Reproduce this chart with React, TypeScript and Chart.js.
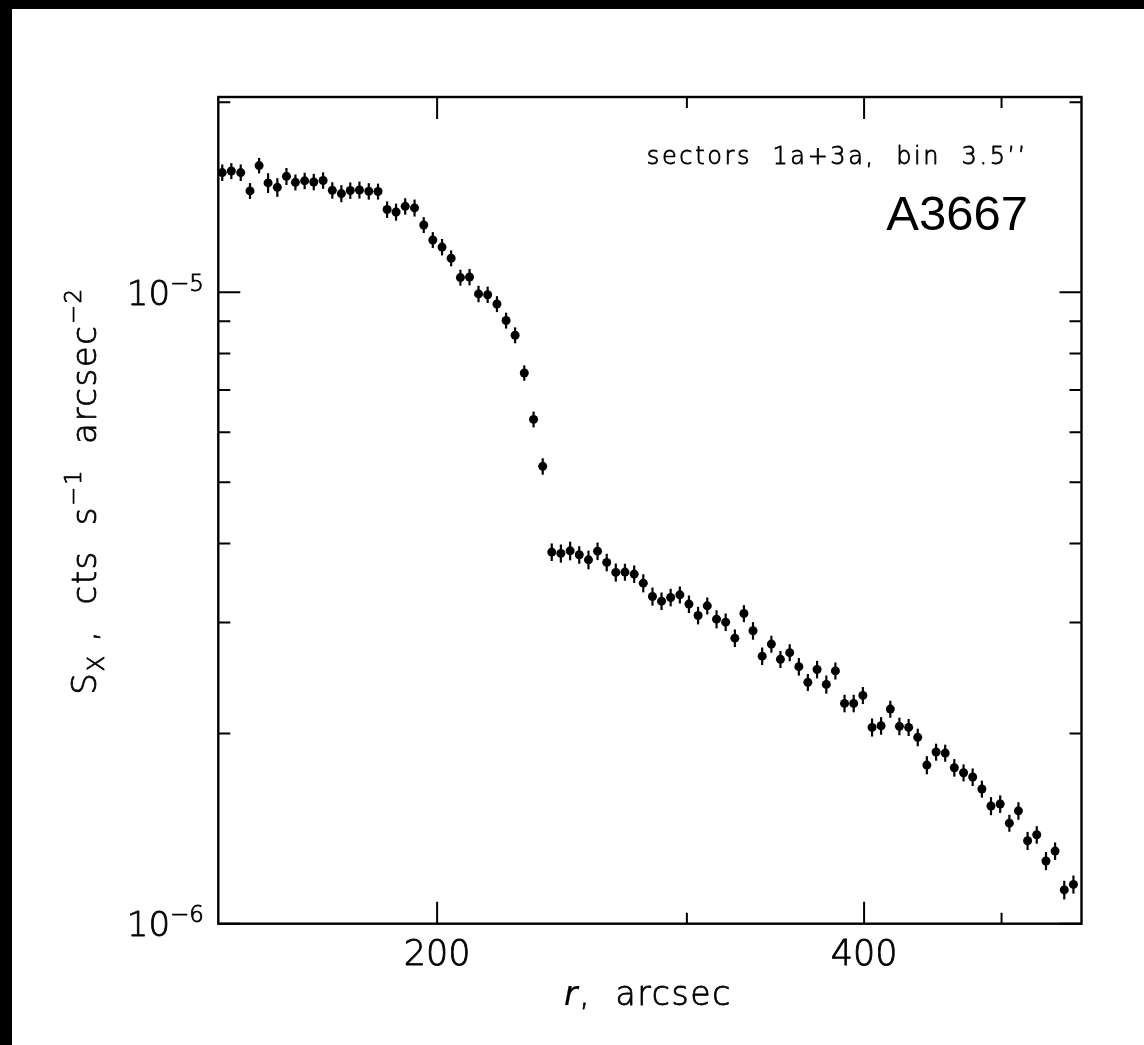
import React, { useEffect, useRef } from "react";
import { Chart, registerables } from "chart.js";

Chart.register(...registerables);

// ---- data ----
// radius of each annulus bin, arcsec
const radius: number[] = [
  141.1, 143.2, 145.4, 147.6, 149.8, 152.0, 154.3, 156.6, 158.9, 161.3,
  163.7, 166.2, 168.7, 171.2, 173.7, 176.3, 179.0, 181.7, 184.4, 187.1,
  189.9, 192.8, 195.7, 198.6, 201.6, 204.6, 207.7, 210.8, 213.9, 217.1,
  220.4, 223.7, 227.0, 230.4, 233.9, 237.4, 240.9, 244.5, 248.2, 251.9,
  255.7, 259.5, 263.4, 267.3, 271.3, 275.4, 279.5, 283.7, 287.9, 292.2,
  296.6, 301.0, 305.5, 310.1, 314.8, 319.5, 324.3, 329.1, 334.0, 339.0,
  344.1, 349.2, 354.5, 359.8, 365.1, 370.6, 376.2, 381.8, 387.5, 393.3,
  399.2, 405.2, 411.2, 417.4, 423.6, 430.0, 436.4, 442.9, 449.6, 456.3,
  463.1, 470.1, 477.1, 484.3, 491.5, 498.9, 506.4, 513.9, 521.6, 529.4,
  537.4, 545.4, 553.6, 561.9,
];

// surface brightness, units of 1e-6 cts s^-1 arcsec^-2
const brightness1e6: number[] = [
  15.47, 15.56, 15.47, 14.47, 15.87, 14.90, 14.66, 15.26, 14.93, 15.01,
  14.95, 15.03, 14.50, 14.33, 14.49, 14.52, 14.45, 14.44, 13.52, 13.40,
  13.68, 13.60, 12.78, 12.10, 11.79, 11.32, 10.55, 10.57, 9.94, 9.91,
  9.58, 9.02, 8.55, 7.45, 6.29, 5.30, 3.877, 3.858, 3.895, 3.839,
  3.769, 3.890, 3.734, 3.600, 3.604, 3.578, 3.462, 3.298, 3.242, 3.286,
  3.317, 3.207, 3.077, 3.187, 3.036, 3.003, 2.833, 3.099, 2.910, 2.653,
  2.772, 2.622, 2.687, 2.553, 2.411, 2.527, 2.393, 2.514, 2.233, 2.233,
  2.299, 2.046, 2.058, 2.187, 2.054, 2.046, 1.973, 1.783, 1.870, 1.863,
  1.766, 1.734, 1.707, 1.634, 1.536, 1.547, 1.443, 1.509, 1.353, 1.383,
  1.257, 1.303, 1.131, 1.154,
];

// relative 1-sigma errors
const relError: number[] = [
  0.030, 0.029, 0.030, 0.029, 0.028, 0.036, 0.034, 0.031, 0.029, 0.030,
  0.030, 0.030, 0.030, 0.031, 0.030, 0.031, 0.030, 0.029, 0.030, 0.031,
  0.030, 0.031, 0.029, 0.029, 0.030, 0.029, 0.029, 0.030, 0.030, 0.030,
  0.029, 0.029, 0.029, 0.028, 0.029, 0.030, 0.032, 0.033, 0.034, 0.032,
  0.034, 0.032, 0.032, 0.033, 0.031, 0.032, 0.033, 0.033, 0.032, 0.032,
  0.031, 0.032, 0.032, 0.031, 0.033, 0.032, 0.032, 0.031, 0.032, 0.032,
  0.031, 0.031, 0.031, 0.032, 0.031, 0.032, 0.033, 0.031, 0.032, 0.032,
  0.031, 0.033, 0.032, 0.031, 0.032, 0.031, 0.032, 0.033, 0.031, 0.031,
  0.032, 0.031, 0.032, 0.031, 0.033, 0.032, 0.031, 0.032, 0.033, 0.032,
  0.033, 0.032, 0.034, 0.033,
];

const xRange: number[] = [140.2, 569.3];
const yRange: number[] = [1e-6, 2.038e-5];
const xMajorTicks: number[] = [200, 400];
const xMinorTicks: number[] = [300, 500];
const xTickLabels: string[] = ["200", "400"];
const yMajorTicks: number[] = [1e-6, 1e-5];
const yMinorTicks: number[] = [2e-6, 3e-6, 4e-6, 5e-6, 6e-6, 7e-6, 8e-6, 9e-6, 2e-5];
const yTickBase: string[] = ["10", "10"];
const yTickExp: string[] = ["\u22126", "\u22125"];

const PG_FONT = "'DejaVu Sans', sans-serif";

type Seg = { t: string; size: number; dy: number; italic?: boolean; family?: string; weight?: string; stroke?: number };

function fontOf(s: Seg) {
  return `${s.italic ? "italic " : ""}${s.weight ?? "200"} ${s.size}px ${s.family ?? PG_FONT}`;
}

function drawRich(
  ctx: CanvasRenderingContext2D,
  segs: Seg[],
  x: number,
  y: number,
  align: "left" | "center" | "right",
  rotate = false,
  spacing = 0
) {
  ctx.save();
  ctx.translate(x, y);
  if (rotate) ctx.rotate(-Math.PI / 2);
  ctx.textBaseline = "alphabetic";
  ctx.textAlign = "left";
  ctx.fillStyle = "#000";
  ctx.strokeStyle = "#000";
  ctx.lineJoin = "round";
  (ctx as any).letterSpacing = `${spacing}px`;
  const ws = segs.map((s) => {
    ctx.font = fontOf(s);
    return ctx.measureText(s.t).width;
  });
  const total = ws.reduce((a, b) => a + b, 0);
  let cx = align === "left" ? 0 : align === "center" ? -total / 2 : -total;
  segs.forEach((s, i) => {
    ctx.font = fontOf(s);
    ctx.fillText(s.t, cx, s.dy);
    const sw = s.stroke ?? 0.8;
    if (sw > 0) {
      ctx.lineWidth = sw;
      ctx.strokeText(s.t, cx, s.dy);
    }
    cx += ws[i];
  });
  (ctx as any).letterSpacing = "0px";
  ctx.restore();
}

const decorPlugin = {
  id: "pgplotDecor",
  beforeDatasetsDraw(chart: any) {
    const { ctx } = chart;
    const xs = chart.scales.x;
    const ys = chart.scales.y;
    ctx.save();
    ctx.strokeStyle = "#000";
    ctx.lineWidth = 2.2;
    radius.forEach((r, i) => {
      const v = brightness1e6[i] * 1e-6;
      const e = relError[i];
      const px = xs.getPixelForValue(r);
      ctx.beginPath();
      ctx.moveTo(px, ys.getPixelForValue(v * (1 + e)));
      ctx.lineTo(px, ys.getPixelForValue(v * (1 - e)));
      ctx.stroke();
    });
    ctx.restore();
  },
  afterDraw(chart: any) {
    const { ctx, chartArea: a } = chart;
    const xs = chart.scales.x;
    const ys = chart.scales.y;
    ctx.save();
    ctx.strokeStyle = "#000";
    // frame
    ctx.lineWidth = 2.4;
    ctx.strokeRect(a.left, a.top, a.right - a.left, a.bottom - a.top);
    // ticks
    ctx.lineWidth = 2;
    const xt = (vals: number[], len: number) =>
      vals.forEach((v) => {
        const p = xs.getPixelForValue(v);
        ctx.beginPath();
        ctx.moveTo(p, a.bottom);
        ctx.lineTo(p, a.bottom - len);
        ctx.moveTo(p, a.top);
        ctx.lineTo(p, a.top + len);
        ctx.stroke();
      });
    const yt = (vals: number[], len: number) =>
      vals.forEach((v) => {
        const p = ys.getPixelForValue(v);
        ctx.beginPath();
        ctx.moveTo(a.left, p);
        ctx.lineTo(a.left + len, p);
        ctx.moveTo(a.right, p);
        ctx.lineTo(a.right - len, p);
        ctx.stroke();
      });
    xt(xMajorTicks, 22);
    xt(xMinorTicks, 11);
    yt(yMajorTicks, 22);
    yt(yMinorTicks, 12);
    ctx.restore();

    // y tick labels with exponents
    yMajorTicks.forEach((v, i) => {
      const p = ys.getPixelForValue(v);
      drawRich(
        ctx,
        [
          { t: yTickBase[i], size: 34, dy: 0 },
          { t: yTickExp[i], size: 23, dy: -14 },
        ],
        204,
        p + 12.5,
        "right"
      );
    });

    // y axis title
    drawRich(
      ctx,
      [
        { t: "S", size: 34, dy: 0 },
        { t: "X", size: 23, dy: 8 },
        { t: " ,  cts  s", size: 34, dy: 0 },
        { t: "\u22121", size: 23, dy: -15 },
        { t: "  arcsec", size: 34, dy: 0 },
        { t: "\u22122", size: 23, dy: -15 },
      ],
      96,
      491,
      "center",
      true,
      1.6
    );

    // x axis title
    drawRich(
      ctx,
      [
        { t: "r", size: 33, dy: 0, italic: true, stroke: 0.2 },
        { t: ",  arcsec", size: 33, dy: 0 },
      ],
      648,
      1005,
      "center",
      false,
      1.6
    );

    // annotations
    drawRich(ctx, [{ t: "sectors  1a+3a,  bin  3.5\u2019\u2019", size: 24, dy: 0 }], 1028, 164, "right", false, 2.6);
    drawRich(
      ctx,
      [{ t: "A3667", size: 49, dy: 0, family: "'Liberation Sans', Arial, sans-serif", weight: "400", stroke: 0 }],
      1028,
      230,
      "right"
    );
  },
};

export default function App() {
  const ref = useRef<HTMLCanvasElement>(null);
  useEffect(() => {
    if (!ref.current) return;
    const chart = new Chart(ref.current, {
      type: "scatter",
      data: {
        datasets: [
          {
            data: radius.map((r, i) => ({ x: r, y: brightness1e6[i] * 1e-6 })),
            pointRadius: 4.5,
            pointHoverRadius: 4.5,
            pointBackgroundColor: "#000",
            pointBorderColor: "#000",
            pointBorderWidth: 0,
            showLine: false,
          },
        ],
      },
      options: {
        animation: false,
        responsive: false,
        events: [],
        layout: { padding: { left: 0, top: 97, right: 62.5, bottom: 0 } },
        plugins: { legend: { display: false }, tooltip: { enabled: false } },
        scales: {
          x: {
            type: "logarithmic",
            min: xRange[0],
            max: xRange[1],
            bounds: "data",
            grid: { display: false, drawTicks: false },
            border: { display: false },
            afterBuildTicks: (s: any) => {
              s.ticks = xMajorTicks.map((v) => ({ value: v }));
            },
            ticks: {
              callback: (v: any) => {
                const k = xMajorTicks.indexOf(Number(v));
                return k >= 0 ? xTickLabels[k] : "";
              },
              font: { family: PG_FONT, size: 35, weight: "200" as any },
              color: "#000",
              textStrokeColor: "#000",
              textStrokeWidth: 0.8,
              padding: 11,
              autoSkip: false,
              maxRotation: 0,
            } as any,
            afterFit: (s: any) => {
              s.height = 1045 - 923.7;
            },
          },
          y: {
            type: "logarithmic",
            min: yRange[0],
            max: yRange[1],
            bounds: "data",
            grid: { display: false, drawTicks: false },
            border: { display: false },
            ticks: { display: false },
            afterFit: (s: any) => {
              s.width = 218.3;
            },
          },
        },
      },
      plugins: [decorPlugin],
    });
    return () => chart.destroy();
  }, []);

  return (
    <div
      style={{
        position: "fixed",
        left: 0,
        top: 0,
        width: 1144,
        height: 1045,
        background: "#000",
        overflow: "hidden",
      }}
    >
      <div style={{ position: "absolute", left: 12, top: 9, right: 0, bottom: 0, background: "#fff" }} />
      <canvas
        ref={ref}
        width={1144}
        height={1045}
        style={{ position: "absolute", left: 0, top: 0, width: 1144, height: 1045 }}
      />
    </div>
  );
}
